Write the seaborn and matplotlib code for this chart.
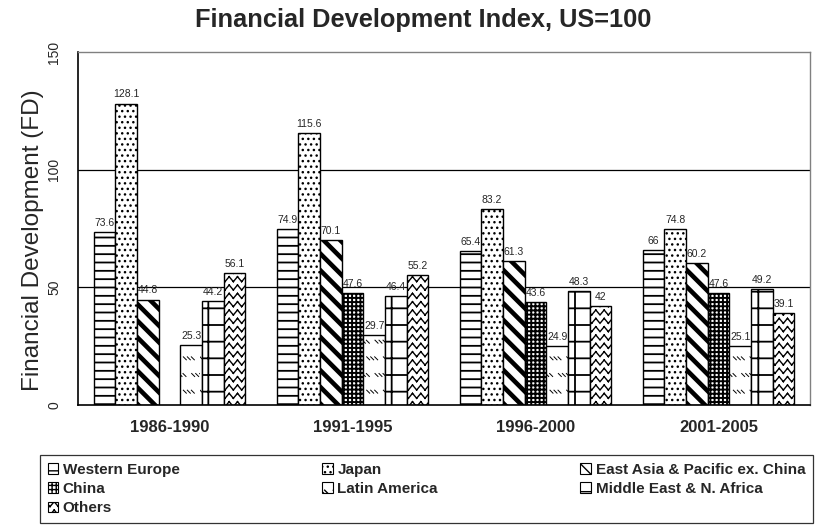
import warnings
warnings.filterwarnings("ignore")
import numpy as np
import pandas as pd
import matplotlib
matplotlib.use("Agg")
import matplotlib.pyplot as plt
import matplotlib.patches as mpatches
import matplotlib.hatch as mhatch
from matplotlib.path import Path
import seaborn as sns

# ---------------- data ----------------
periods = ["1986-1990", "1991-1995", "1996-2000", "2001-2005"]
series_names = ["Western Europe", "Japan", "East Asia & Pacific ex. China", "China",
                "Latin America", "Middle East & N. Africa", "Others"]
western_europe = [73.6, 74.9, 65.4, 66]
japan = [128.1, 115.6, 83.2, 74.8]
east_asia = [44.8, 70.1, 61.3, 60.2]
china = [np.nan, 47.6, 43.6, 47.6]
latin_america = [25.3, 29.7, 24.9, 25.1]
middle_east = [44.2, 46.4, 48.3, 49.2]
others = [56.1, 55.2, 42, 39.1]
y_ticks = [0, 50, 100, 150]


# ---------------- custom hatches ----------------
class WaveHatch(mhatch.HatchPatternBase):
    """Wavy (zig-zag) horizontal lines, drawn as separate segments."""
    def __init__(self, hatch, density):
        self.num_rows = hatch.count('w') * density
        self.per = self.num_rows
        self.num_vertices = self.num_rows * (2 * self.per) * 2

    def set_vertices_and_codes(self, vertices, codes):
        n = self.num_rows
        p = self.per
        amp = 0.30 / n
        k = 0
        for i in range(n):
            yc = (i + 0.5) / n
            for j in range(2 * p):
                x0 = j / (2 * p)
                x1 = (j + 1) / (2 * p)
                y0 = yc + (amp if j % 2 else -amp)
                y1 = yc + (-amp if j % 2 else amp)
                vertices[k] = (x0, y0)
                codes[k] = Path.MOVETO
                vertices[k + 1] = (x1, y1)
                codes[k + 1] = Path.LINETO
                k += 2


class DashHatch(mhatch.HatchPatternBase):
    """Groups of short backslash dashes."""
    def __init__(self, hatch, density):
        c = hatch.count('d')
        self.rows = c * density
        self.groups = c * density
        self.n_seg = 3
        self.num_vertices = self.rows * self.groups * self.n_seg * 2 if c else 0

    def set_vertices_and_codes(self, vertices, codes):
        r = self.rows
        g = self.groups
        L = 0.03
        sp = 0.04
        k = 0
        for i in range(r):
            y = (i + 0.5) / r
            off = 0.5 / g if i % 2 else 0.0
            for j in range(g):
                x0 = (j / g + off) % 1.0
                for s in range(self.n_seg):
                    x = (x0 + s * sp) % 1.0
                    vertices[k] = (x, y + L / 2)
                    codes[k] = Path.MOVETO
                    vertices[k + 1] = (x + L, y - L / 2)
                    codes[k + 1] = Path.LINETO
                    k += 2


mhatch._hatch_types.append(WaveHatch)
mhatch._hatch_types.append(DashHatch)

hatches = ['--', '...', '\\\\', '++++', 'd', '+', 'ww']
hatch_lw = [1.3, 1.0, 3.3, 1.4, 0.7, 1.3, 1.0]

# ---------------- figure ----------------
sns.set_theme(style="white")
plt.rcParams['font.family'] = ['Liberation Sans', 'DejaVu Sans']

fig = plt.figure(figsize=(8.15, 5.32), dpi=100)
ax = fig.add_axes([78 / 815, 1 - 405 / 532, 732 / 815, 353 / 532])

values = [western_europe, japan, east_asia, china, latin_america, middle_east, others]
rows = []
for name, vals in zip(series_names, values):
    for per, v in zip(periods, vals):
        rows.append({"period": per, "region": name, "value": v})
df = pd.DataFrame(rows).dropna()

sns.barplot(data=df, x="period", y="value", hue="region", order=periods,
            hue_order=series_names, width=0.83, edgecolor="black", linewidth=1.0,
            palette=["white"] * 7, ax=ax, legend=False, zorder=2)

for c, h, lw in zip(ax.containers, hatches, hatch_lw):
    for p in c:
        p.set_hatch(h)
        p.set_facecolor("white")
        p.set_edgecolor("black")
        if hasattr(p, "set_hatch_linewidth"):
            p.set_hatch_linewidth(lw)
    ax.bar_label(c, fmt="%g", fontsize=7.5, padding=3)

for yv in [50, 100]:
    ax.axhline(yv, color="black", lw=0.9, zorder=0)

ax.set_ylim(0, 150)
ax.set_xlim(-0.5, 3.5)
ax.set_yticks(y_ticks)
ax.set_yticklabels([str(t) for t in y_ticks], rotation=90, va="center", fontsize=10)
ax.set_ylabel("Financial Development (FD)", fontsize=17.5)
ax.yaxis.set_label_coords((44 - 78) / 732, (405 - 240) / 353)
ax.set_xlabel("")
ax.tick_params(axis="y", length=0, pad=12)
ax.tick_params(axis="x", which="major", length=0, pad=11)
ax.set_xticks([0.5, 1.5, 2.5], minor=True)
ax.tick_params(axis="x", which="minor", direction="in", length=5, width=0.8, color="black")
for lbl in ax.get_xticklabels():
    lbl.set_fontweight("bold")
    lbl.set_fontsize(12)

for s in ["left", "bottom"]:
    ax.spines[s].set_color("black")
    ax.spines[s].set_linewidth(1.2)
for s in ["top", "right"]:
    ax.spines[s].set_color("#808080")
    ax.spines[s].set_linewidth(1.0)

fig.text(423 / 815, 1 - 20 / 532, "Financial Development Index, US=100",
         ha="center", va="center", fontsize=18.3, fontweight="bold")

# legend (column-major order to get row-wise layout)
handles = []
for h, lw in zip(hatches, hatch_lw):
    ph = mpatches.Patch(facecolor="white", edgecolor="black", hatch=h, linewidth=0.8)
    if hasattr(ph, "set_hatch_linewidth"):
        ph.set_hatch_linewidth(min(lw, 1.2))
    handles.append(ph)
order = [0, 3, 6, 1, 4, 2, 5]
leg = ax.legend([handles[i] for i in order], [series_names[i] for i in order],
                ncol=3, loc="upper left", mode="expand",
                bbox_to_anchor=(-0.052, -0.142, 1.056, 0.0),
                frameon=True, fancybox=False, edgecolor="black",
                prop={"weight": "bold", "size": 11},
                handlelength=0.7, handleheight=0.7, handletextpad=0.3,
                labelspacing=0.35, borderpad=0.5, borderaxespad=0)
leg.get_frame().set_linewidth(0.9)

fig.savefig("out.png", dpi=100)
